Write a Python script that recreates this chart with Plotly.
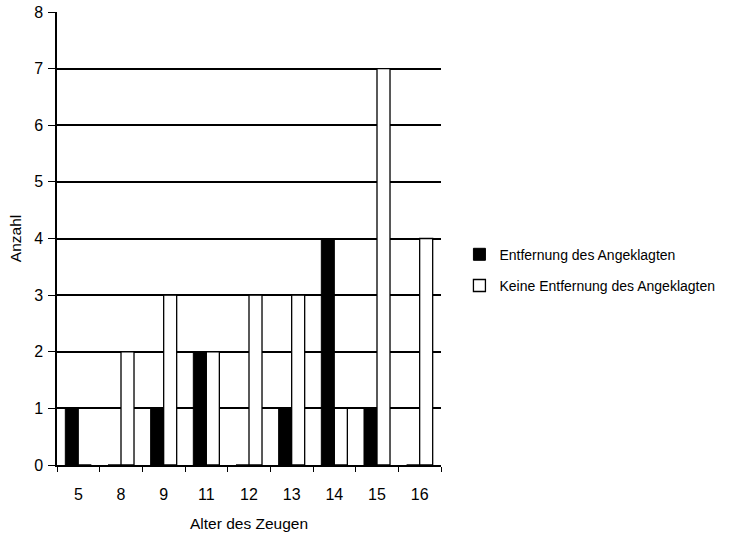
import plotly.graph_objects as go

categories = ["5", "8", "9", "11", "12", "13", "14", "15", "16"]
entfernung = [1, 0, 1, 2, 0, 1, 4, 1, 0]
keine_entfernung = [0, 2, 3, 2, 3, 3, 1, 7, 4]
y_ticks = [0, 1, 2, 3, 4, 5, 6, 7, 8]

FONT = "Liberation Sans, Arial, sans-serif"

fig = go.Figure()
fig.add_trace(go.Bar(
    x=categories, y=entfernung, name="Entfernung des Angeklagten",
    marker=dict(color="black", line=dict(color="black", width=1)),
    legendgroup="a",
))
fig.add_trace(go.Bar(
    x=categories, y=keine_entfernung, name="Keine Entfernung des Angeklagten",
    marker=dict(color="white", line=dict(color="black", width=1.3)),
    legendgroup="b",
))

fig.update_layout(
    width=741, height=539,
    margin=dict(l=57, r=300, t=12, b=74),
    paper_bgcolor="white", plot_bgcolor="white",
    barmode="group", bargap=0.39, bargroupgap=0,
    font=dict(family=FONT, size=15, color="black"),
    showlegend=True,
    legend=dict(x=1.048, y=0.43, xanchor="left", yanchor="middle",
                font=dict(family=FONT, size=14, color="black"),
                tracegroupgap=10, traceorder="grouped",
                itemwidth=30),
)
fig.update_xaxes(
    type="category", tickson="boundaries", ticks="outside", ticklen=5,
    tickcolor="black", tickwidth=1.3,
    showline=True, linecolor="black", linewidth=1.5,
    showgrid=False, automargin=False,
    ticklabelstandoff=14,
    title=dict(text="Alter des Zeugen", font=dict(size=15.5), standoff=16),
    tickfont=dict(size=16),
)
fig.update_yaxes(
    range=[0, 8], tickvals=y_ticks, ticks="outside", ticklen=7,
    tickcolor="black", tickwidth=1.3,
    showline=True, linecolor="black", linewidth=1.5,
    showgrid=True, gridcolor="black", gridwidth=1.5,
    zeroline=False, automargin=False,
    ticklabelstandoff=2,
    title=dict(text="Anzahl", font=dict(size=15.5), standoff=9),
    tickfont=dict(size=16),
)

fig.write_html("out.html")
